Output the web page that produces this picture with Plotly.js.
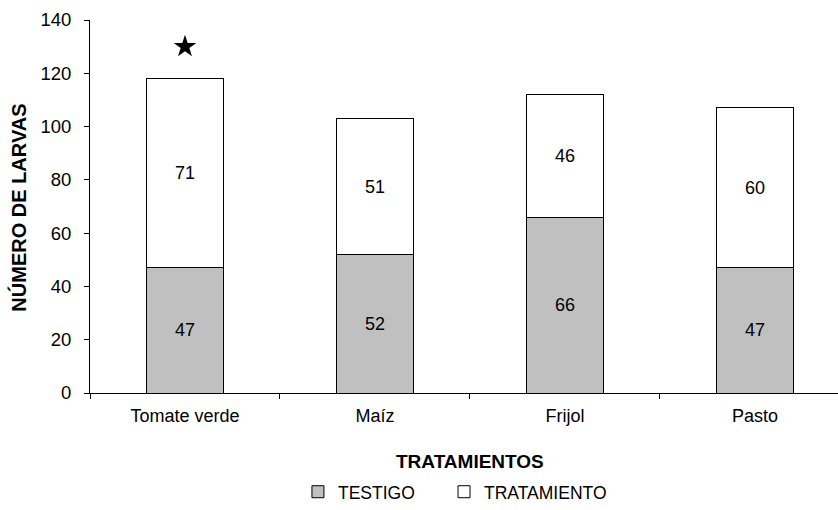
<!DOCTYPE html>
<html>
<head>
<meta charset="utf-8">
<script src="https://cdn.plot.ly/plotly-3.0.1.min.js"></script>
<style>html,body{margin:0;padding:0;background:#fff;}#chart{width:838px;height:510px;}</style>
</head>
<body>
<div id="chart"></div>
<script>
var categories = ["Tomate verde", "Maíz", "Frijol", "Pasto"];
var testigo = [47, 52, 66, 47];
var tratamiento = [71, 51, 46, 60];
var starCategories = ["Tomate verde"];
var starValues = [130];
var yTicks = [0, 20, 40, 60, 80, 100, 120, 140];
var xTitle = "TRATAMIENTOS";
var yTitle = "NÚMERO DE LARVAS";

var font = "Arial, 'Liberation Sans', sans-serif";

var traces = [
  {
    type: "bar", name: "TESTIGO", x: categories, y: testigo,
    text: testigo.map(String), textposition: "inside", insidetextanchor: "middle",
    textfont: {family: font, size: 18, color: "#000"},
    marker: {color: "#c0c0c0", line: {color: "#000", width: 1}},
    width: 0.405, hoverinfo: "y", legend: "legend"
  },
  {
    type: "bar", name: "TRATAMIENTO", x: categories, y: tratamiento,
    text: tratamiento.map(String), textposition: "inside", insidetextanchor: "middle",
    textfont: {family: font, size: 18, color: "#000"},
    marker: {color: "#ffffff", line: {color: "#000", width: 1}},
    width: 0.405, hoverinfo: "y", legend: "legend2"
  },
  {
    type: "scatter", mode: "markers", x: starCategories, y: starValues,
    marker: {symbol: "star", size: 17, color: "#000"},
    showlegend: false, hoverinfo: "skip"
  }
];

var legendFont = {family: font, size: 17.5, color: "#000"};

var layout = {
  width: 838, height: 510,
  margin: {l: 90, r: 0, t: 20, b: 113},
  paper_bgcolor: "#fff", plot_bgcolor: "#fff",
  barmode: "stack",
  font: {family: font, size: 18, color: "#000"},
  xaxis: {
    type: "category", range: [-0.5, 3.437],
    showline: true, linecolor: "#000", linewidth: 1,
    ticks: "outside", tickson: "boundaries", ticklen: 5, tickcolor: "#000",
    ticklabelstandoff: 6,
    showgrid: false, zeroline: false,
    tickfont: {family: font, size: 18, color: "#000"},
    automargin: false
  },
  yaxis: {
    range: [0, 140], tickvals: yTicks, ticktext: yTicks.map(String),
    showline: true, linecolor: "#000", linewidth: 1,
    ticks: "outside", ticklen: 5, tickcolor: "#000",
    ticklabelstandoff: 9,
    showgrid: false, zeroline: false,
    tickfont: {family: font, size: 18.5, color: "#000"},
    automargin: false
  },
  annotations: [
    {text: "<b>" + xTitle + "</b>", xref: "paper", yref: "paper", x: 0.508, y: -0.183,
     xanchor: "center", yanchor: "middle", showarrow: false,
     font: {family: font, size: 19, color: "#000"}},
    {text: "<b>" + yTitle + "</b>", xref: "paper", yref: "paper", x: -0.0949, y: 0.497,
     xanchor: "center", yanchor: "middle", showarrow: false, textangle: -90,
     font: {family: font, size: 20, color: "#000"}}
  ],
  legend: {
    orientation: "h", x: 0.278, xanchor: "left", y: -0.265, yanchor: "middle",
    font: legendFont, bgcolor: "rgba(0,0,0,0)"
  },
  legend2: {
    orientation: "h", x: 0.4733, xanchor: "left", y: -0.265, yanchor: "middle",
    font: legendFont, bgcolor: "rgba(0,0,0,0)"
  },
  showlegend: true
};

Plotly.newPlot("chart", traces, layout, {displayModeBar: false, staticPlot: true});
</script>
</body>
</html>
